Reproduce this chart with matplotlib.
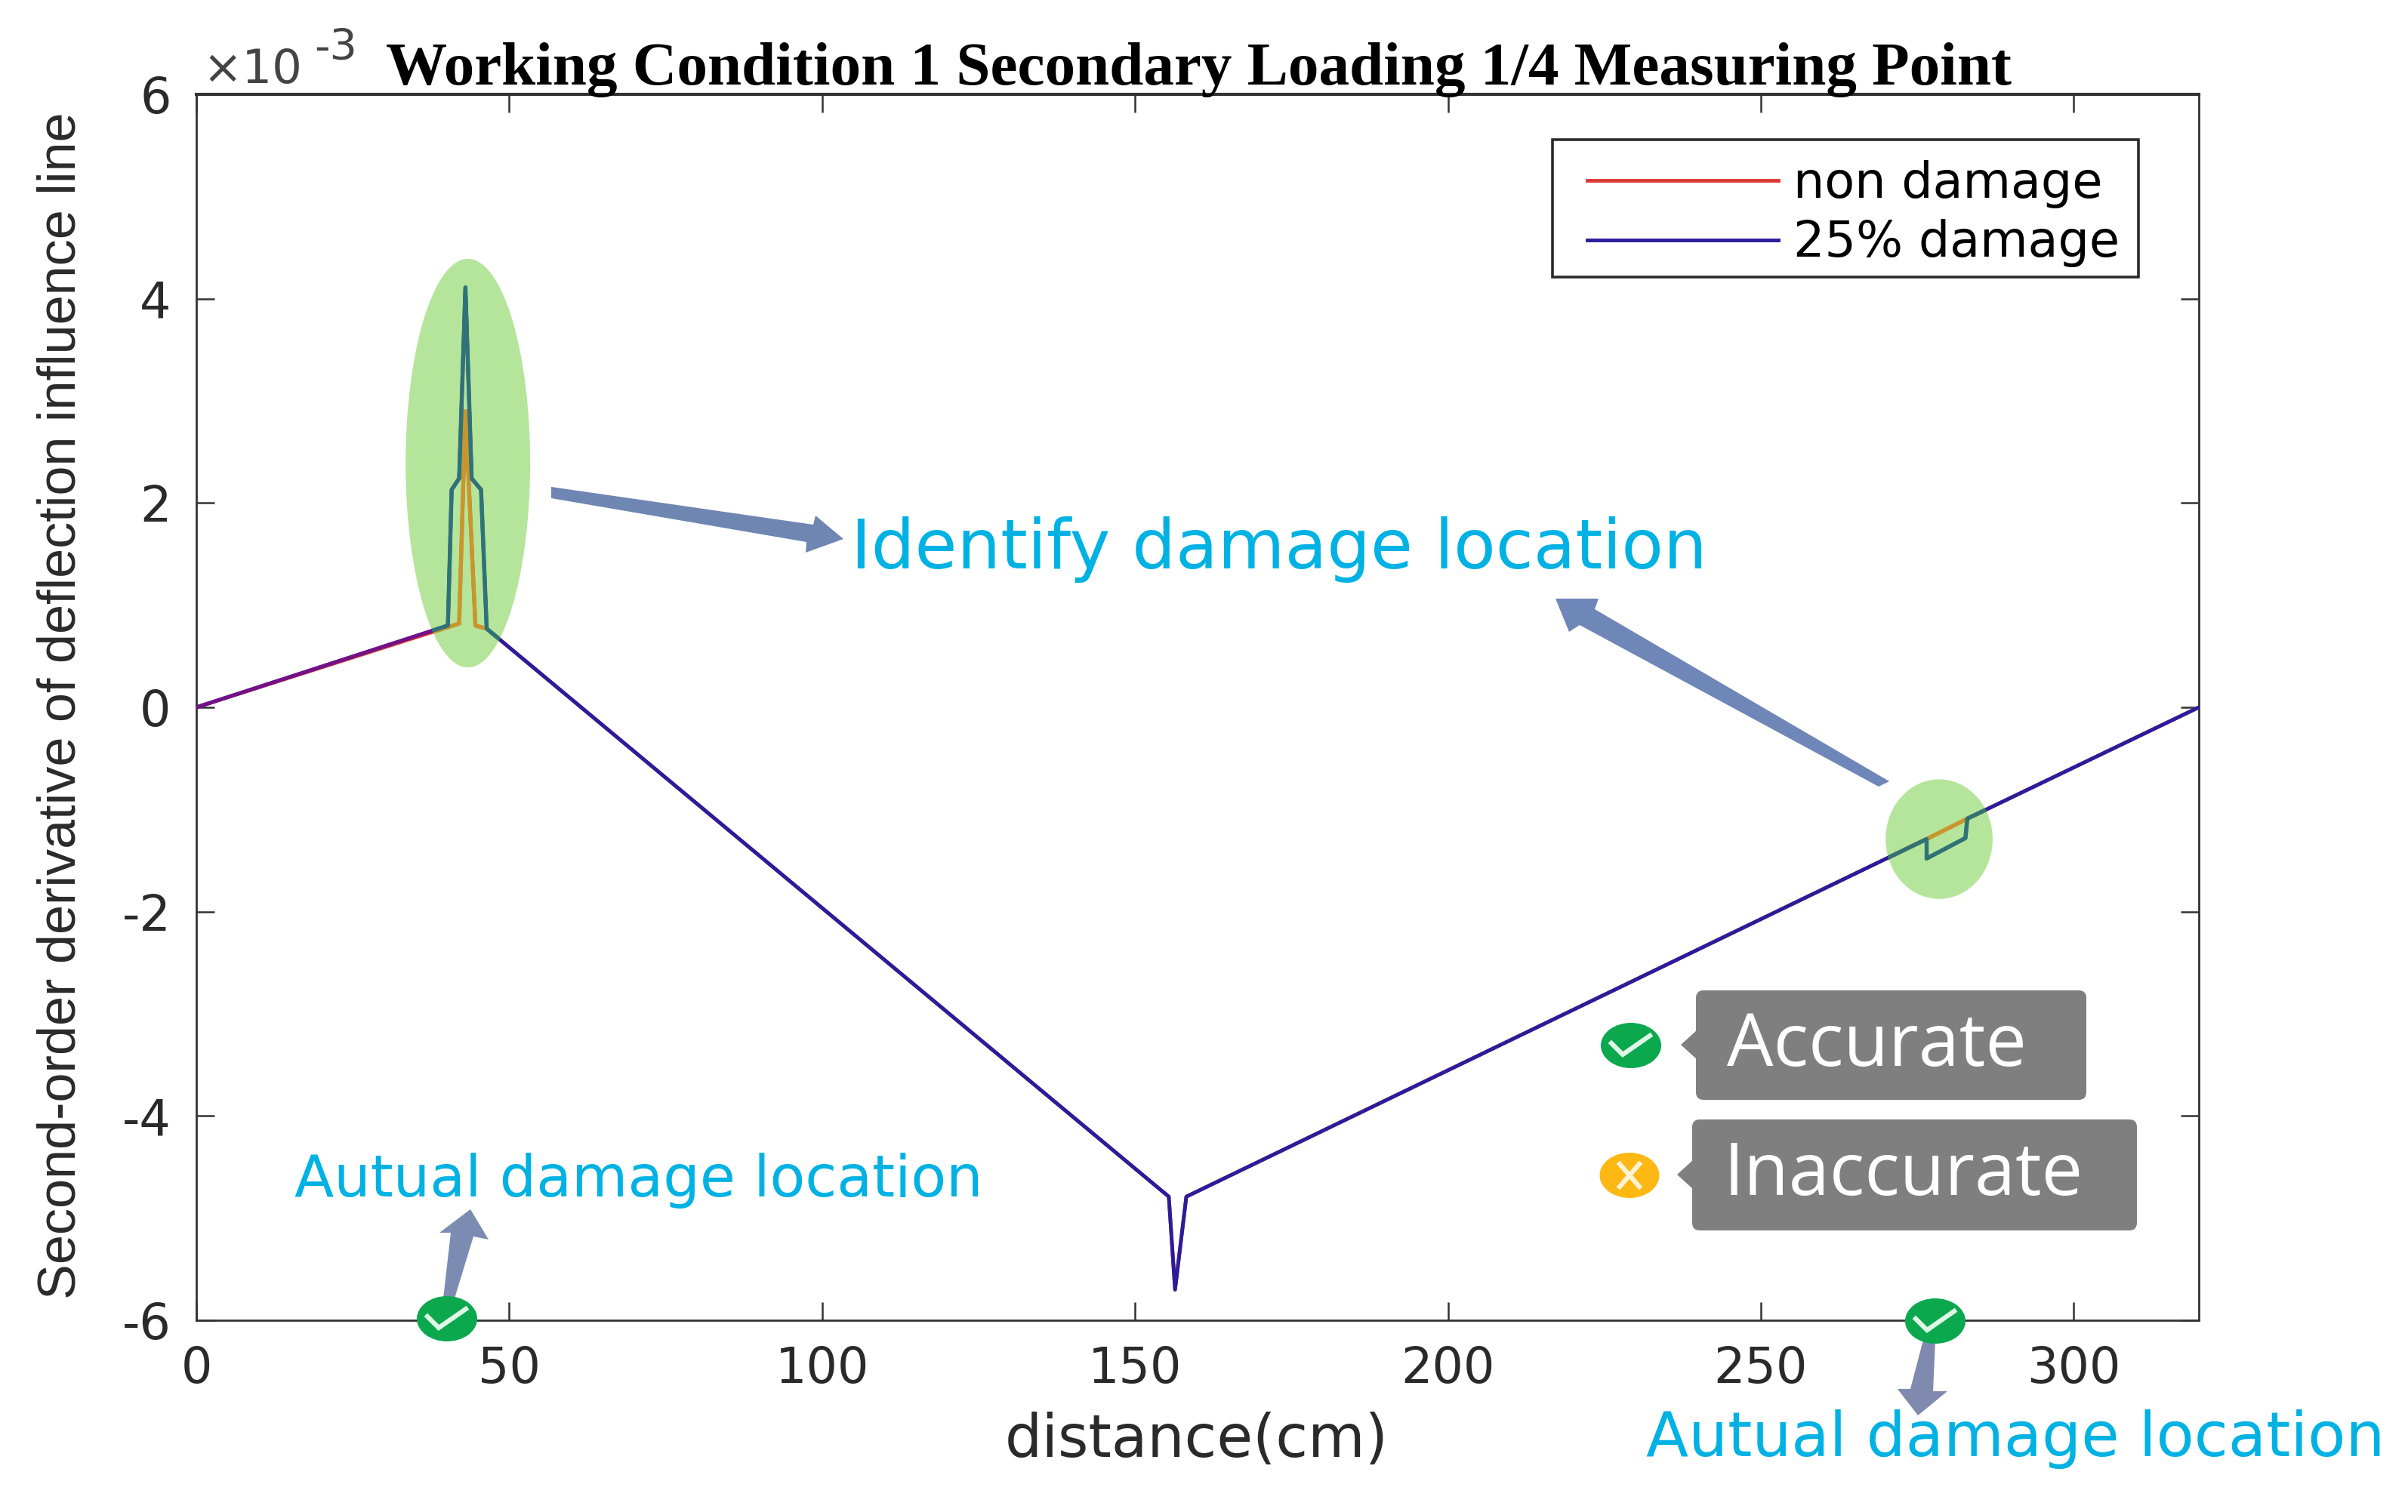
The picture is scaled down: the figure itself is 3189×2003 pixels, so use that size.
# influence line chart with the damage location callouts
import matplotlib
matplotlib.use("Agg")
import matplotlib.pyplot as plt
from matplotlib.patches import Ellipse, FancyBboxPatch, Polygon, Rectangle

# data
x_blue = [0, 40.2, 40.8, 42, 43, 44, 45.5, 46.4, 155.4, 156.4, 158.2, 276.5, 276.5, 282.7, 283, 320]
y_blue = [0, 0.80, 2.13, 2.24, 4.11, 2.24, 2.13, 0.77, -4.79, -5.70, -4.79, -1.29, -1.48, -1.28, -1.09, 0]
x_red = [0, 42, 43, 44.6, 46.4, 155.4, 156.4, 158.2, 276.5, 283, 320]
y_red = [0, 0.82, 2.9, 0.80, 0.77, -4.79, -5.70, -4.79, -1.29, -1.09, 0]
x_ticks = [0, 50, 100, 150, 200, 250, 300]
y_ticks = [-6, -4, -2, 0, 2, 4, 6]
labels = ["non damage", "25% damage"]

W, H = 3189, 2003
plt.rcParams["axes.unicode_minus"] = False
fig = plt.figure(figsize=(W / 100, H / 100), dpi=100, facecolor="white")

ax = fig.add_axes([260 / W, 1 - 1749 / H, 2652 / W, 1624 / H])
ax.set_xlim(0, 320)
ax.set_ylim(-6, 6)

# green highlight regions
GREEN = "#B5E59A"
spot1 = Ellipse((43.4, 2.39), 19.9, 4.0, color=GREEN, lw=0, zorder=1)
spot2 = Ellipse((278.5, -1.29), 17.1, 1.17, color=GREEN, lw=0, zorder=1)
ax.add_patch(spot1)
ax.add_patch(spot2)

RED = "#DD3A34"
BLUE = "#2A1C9C"
ax.plot(x_red, y_red, color=RED, lw=3.5, label=labels[0], zorder=2)
ax.plot(x_blue, y_blue, color=BLUE, lw=3.5, label=labels[1], zorder=3)
ax.plot(x_blue[:2], y_blue[:2], color="#741088", lw=3.5, zorder=3)

# lines look different where the green sits over them
for spot in [spot1, spot2]:
    l1, = ax.plot(x_red, y_red, color="#C9962E", lw=3.9, zorder=4)
    l2, = ax.plot(x_blue, y_blue, color="#2F7378", lw=3.9, zorder=5)
    l1.set_clip_path(spot)
    l2.set_clip_path(spot)

ax.set_xticks(x_ticks)
ax.set_yticks(y_ticks)
ax.tick_params(direction="in", length=17, width=1.8, color="#333333", top=True, right=True,
               labelcolor="#2A2A2A", labelsize=47, pad=24)
for t in ax.get_xticklabels() + ax.get_yticklabels():
    t.set_family("DejaVu Sans")
for s in ax.spines.values():
    s.set_color("#333333")
    s.set_linewidth(2)
ax.spines["top"].set_linewidth(3)

ax.legend(loc="upper left", bbox_to_anchor=((2102 - 260) / 2652, 1 - (212 - 125) / 1624), borderaxespad=0,
          prop={"family": "DejaVu Sans", "size": 47}, frameon=False,
          handlelength=3.88, handletextpad=0.3, borderpad=0, labelspacing=0.22)

# overlay in image pixels for the annotations
ov = fig.add_axes([0, 0, 1, 1], zorder=10)
ov.set_xlim(0, W)
ov.set_ylim(H, 0)
ov.axis("off")

# legend box
ov.add_patch(Rectangle((2056, 185), 776, 182, fill=False, edgecolor="#2A2A2A", lw=2.6))

ov.text(82, 935, "Second-order derivative of deflection influence line", rotation=90, ha="center", va="center",
        family="Liberation Sans", fontsize=50.5, color="#2A2A2A")
ov.text(1585, 1908, "distance(cm)", ha="center", va="center", family="DejaVu Sans", fontsize=56, color="#2A2A2A")
ov.text(511, 112, "Working Condition 1 Secondary Loading 1/4 Measuring Point", family="Liberation Serif",
        weight="bold", fontsize=58.4, color="black", va="baseline")
ov.text(268, 110, "×10", family="DejaVu Sans", fontsize=45, color="#444444", va="baseline")
ov.text(416, 80, "-3", family="DejaVu Sans", fontsize=41, color="#444444", va="baseline")

CYAN = "#00B2E3"
ov.text(1127, 728, "Identify damage location", family="DejaVu Sans", fontsize=65.5, color=CYAN, va="center")
ov.text(390, 1564, "Autual damage location", family="DejaVu Sans", fontsize=55, color=CYAN, va="center")
ov.text(2180, 1906, "Autual damage location", family="DejaVu Sans", fontsize=59, color=CYAN, va="center")

# arrows
arrows = [
    ([(730, 645), (1077, 695), (1080, 683), (1117, 714), (1067, 732), (1068, 718), (730, 660)], "#6F86B2"),
    ([(2060, 793), (2117, 793), (2112, 807), (2502, 1035), (2488, 1042), (2092, 828), (2078, 837)], "#6F86B8"),
    ([(587, 1720), (597, 1633), (582, 1633), (623, 1602), (647, 1642), (627, 1638), (602, 1720)], "#7C8BB2"),
    ([(2547, 1775), (2530, 1840), (2513, 1840), (2540, 1875), (2579, 1843), (2560, 1843), (2563, 1775)], "#8089AE"),
]
for pts, c in arrows:
    ov.add_patch(Polygon(pts, closed=True, color=c, lw=0))


def check_icon(cx, cy):
    ov.add_patch(Ellipse((cx, cy), 80, 60, color="#0BA84E", lw=0, zorder=3))
    ov.plot([cx - 26, cx - 11, cx + 25], [cy - 3, cy + 12, cy - 13], color="#DDF8E6", lw=4.5, zorder=4,
            solid_joinstyle="miter")


check_icon(592, 1747)
check_icon(2563, 1750)
check_icon(2160, 1385)

# inaccurate icon
ov.add_patch(Ellipse((2158, 1557), 79, 60, color="#FDB813", lw=0, zorder=3))
ov.plot([2145, 2171], [1542, 1572], color="#FFF3D6", lw=4.5, zorder=4)
ov.plot([2145, 2171], [1572, 1542], color="#FFF3D6", lw=4.5, zorder=4)

# grey callouts
GREY = "#7F7F7F"
for x0, y0, x1, y1, tx, txt in [(2246, 1312, 2763, 1457, 2287, "Accurate"), (2241, 1483, 2830, 1630, 2283, "Inaccurate")]:
    ov.add_patch(FancyBboxPatch((x0 + 10, y0 + 10), x1 - x0 - 20, y1 - y0 - 20, boxstyle="round,pad=10,rounding_size=10",
                                color=GREY, lw=0))
    ym = (y0 + y1) / 2 - 0.5
    ov.add_patch(Polygon([(x0 - 20, ym), (x0 + 2, ym - 20), (x0 + 2, ym + 20)], closed=True, color=GREY, lw=0))
    ov.text(tx, y0 + 100, txt, family="Open Sans", fontsize=70, color="white", va="baseline")

fig.savefig("out.png", dpi=100)
